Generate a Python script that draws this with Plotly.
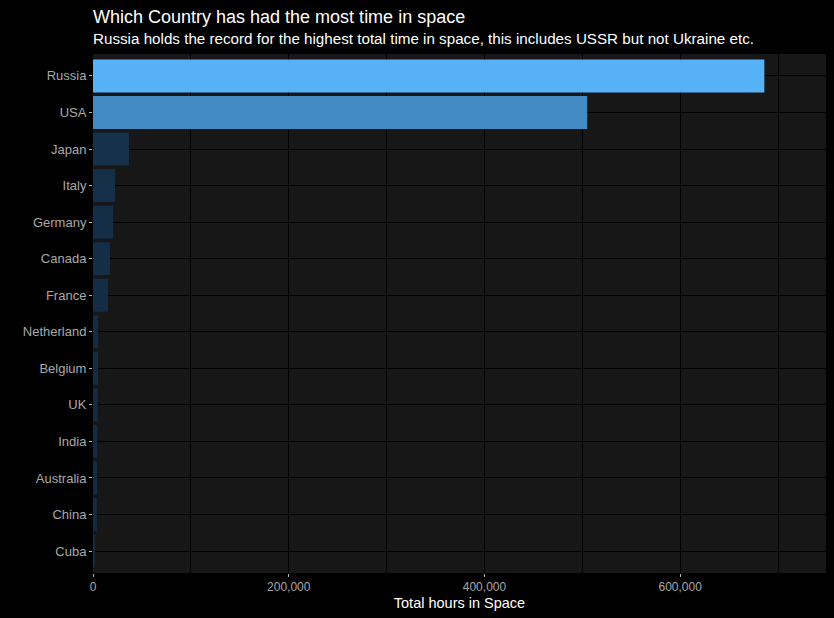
import plotly.graph_objects as go

# countries, bottom to top
countries = ["Cuba", "China", "Australia", "India", "UK", "Belgium", "Netherland",
             "France", "Canada", "Germany", "Italy", "Japan", "USA", "Russia"]
hours = [1800, 3900, 4100, 4300, 4900, 5100, 5300,
         15300, 17400, 20400, 22500, 36800, 505000, 686000]

x_ticks = [0, 200000, 400000, 600000]
x_tick_labels = ["0", "200,000", "400,000", "600,000"]

title = "Which Country has had the most time in space"
subtitle = "Russia holds the record for the highest total time in space, this includes USSR but not Ukraine etc."

# ggplot-ish default continuous blue gradient
blues = [[0.0, "#132B43"], [0.25, "#224A6E"], [0.5, "#336A98"],
         [0.75, "#448CC6"], [1.0, "#56B1F7"]]

fig = go.Figure(go.Bar(
    x=hours,
    y=countries,
    orientation="h",
    width=0.9,
    marker=dict(color=hours, colorscale=blues, line=dict(width=0)),
    hovertemplate="%{y}: %{x:,}<extra></extra>",
))

plot_h = 618 - 54 - 45

fig.update_layout(
    width=834, height=618,
    paper_bgcolor="#000000",
    plot_bgcolor="#171717",
    margin=dict(l=93, r=8, t=54, b=45),
    font=dict(family="Liberation Sans, Arial, sans-serif", color="#B3B3B3"),
    showlegend=False,
    bargap=0.1,
)
fig.add_annotation(text=title, xref="paper", yref="paper", x=0, y=1 + 37 / plot_h,
                   xanchor="left", yanchor="middle", showarrow=False, xshift=-2,
                   font=dict(size=18, color="#FFFFFF"))
fig.add_annotation(text=subtitle, xref="paper", yref="paper", x=0, y=1 + 15 / plot_h,
                   xanchor="left", yanchor="middle", showarrow=False, xshift=-2,
                   font=dict(size=15.2, color="#FFFFFF"))

fig.layout.xaxis.title = dict(text="Total hours in Space", font=dict(size=14.5, color="#FFFFFF"), standoff=4)
fig.update_xaxes(
    range=[0, 749000],
    tickvals=x_ticks, ticktext=x_tick_labels,
    ticks="outside", ticklen=3, tickcolor="#B3B3B3",
    tickfont=dict(size=12, color="#A8A8A8"),
    showgrid=True, gridcolor="#000000", gridwidth=1,
    minor=dict(dtick=100000, tick0=0, showgrid=True, gridcolor="#000000", gridwidth=1),
    zeroline=False, showline=False,
)
fig.update_yaxes(
    type="category", categoryorder="array", categoryarray=countries,
    range=[-0.6, 13.6],
    ticks="outside", ticklen=3, tickcolor="#B3B3B3",
    tickfont=dict(size=13, color="#A8A8A8"),
    showgrid=True, gridcolor="#000000", gridwidth=1,
    zeroline=False, showline=False,
)

fig.write_html("out.html", config={"displayModeBar": False},
               post_script="document.body.style.margin='0';")
